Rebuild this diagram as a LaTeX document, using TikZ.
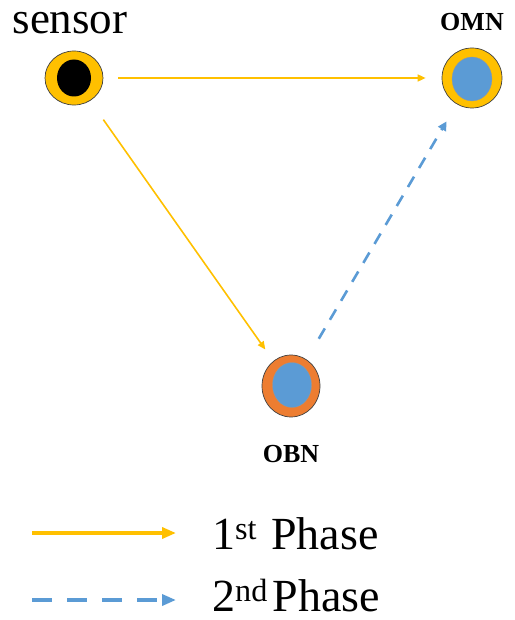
\documentclass[tikz,border=0pt]{standalone}
\usepackage{fontspec}
\setmainfont{Liberation Serif}
\usetikzlibrary{arrows.meta,shapes.geometric}
\definecolor{gold}{HTML}{FFC000}
\definecolor{orng}{HTML}{ED7D31}
\definecolor{lblue}{HTML}{5B9BD5}
\tikzset{
  outerring/.style={ellipse,draw=black!75,line width=0.7pt,inner sep=0pt},
  innerdot/.style={ellipse,inner sep=0pt},
  phaseone/.style={gold,line width=1.6pt,-{Triangle[length=8pt,width=7pt]}},
  phasetwo/.style={lblue,line width=2.6pt,dash pattern=on 12pt off 10pt,-{Triangle[length=9pt,width=9pt]}},
  legone/.style={gold,line width=3.4pt,-{Triangle[length=14pt,width=11pt]}},
  legtwo/.style={lblue,line width=3.4pt,dash pattern=on 20pt off 15pt,-{Triangle[length=14pt,width=11pt]}},
  lbl/.style={inner sep=0pt,anchor=base},
  legtext/.style={inner sep=0pt,anchor=base west,font=\fontsize{46}{50}\selectfont},
}
\begin{document}
\begin{tikzpicture}[x=1pt,y=-1pt]
\useasboundingbox (0,0) rectangle (514,620);
% nodes
\node[outerring,fill=gold,minimum width=58pt,minimum height=54pt] (sensor) at (74,78) {};
\node[innerdot,fill=black,minimum width=34pt,minimum height=37pt] (sensorin) at (74,78) {};
\node[outerring,fill=gold,minimum width=60pt,minimum height=60pt] (omn) at (472,78) {};
\node[innerdot,fill=lblue,draw=black!40,line width=0.3pt,minimum width=40pt,minimum height=44pt] (omnin) at (472,79) {};
\node[outerring,fill=orng,minimum width=58pt,minimum height=62pt] (obn) at (291,386) {};
\node[innerdot,fill=lblue,draw=black!40,line width=0.3pt,minimum width=39pt,minimum height=45pt] (obnin) at (292,385) {};
% labels
\node[lbl,font=\fontsize{45}{50}\selectfont] (sensorlbl) at (70,34) {sensor};
\node[lbl,font=\bfseries\fontsize{26}{30}\selectfont] (omnlbl) at (472,31) {OMN};
\node[lbl,font=\bfseries\fontsize{26}{30}\selectfont] (obnlbl) at (291,462) {OBN};
% connectors
\draw[phaseone,shorten <=15pt,shorten >=16pt] (sensor) -- (omn);
\draw[phaseone,shorten <=23pt,shorten >=14pt] (sensor) -- (obn);
\draw[phasetwo,shorten <=24pt,shorten >=20pt] (obn) -- (omn);
% legend
\coordinate (l1a) at (32,533);
\coordinate (l1b) at (176,533);
\coordinate (l2a) at (32,600);
\coordinate (l2b) at (176,600);
\draw[legone] (l1a) -- (l1b);
\draw[legtwo] (l2a) -- (l2b);
\node[legtext] (leg1) at (212,549) {1\textsuperscript{st}\kern14pt Phase};
\node[legtext] (leg2) at (212,611) {2\textsuperscript{nd}\kern5pt Phase};
\end{tikzpicture}
\end{document}
